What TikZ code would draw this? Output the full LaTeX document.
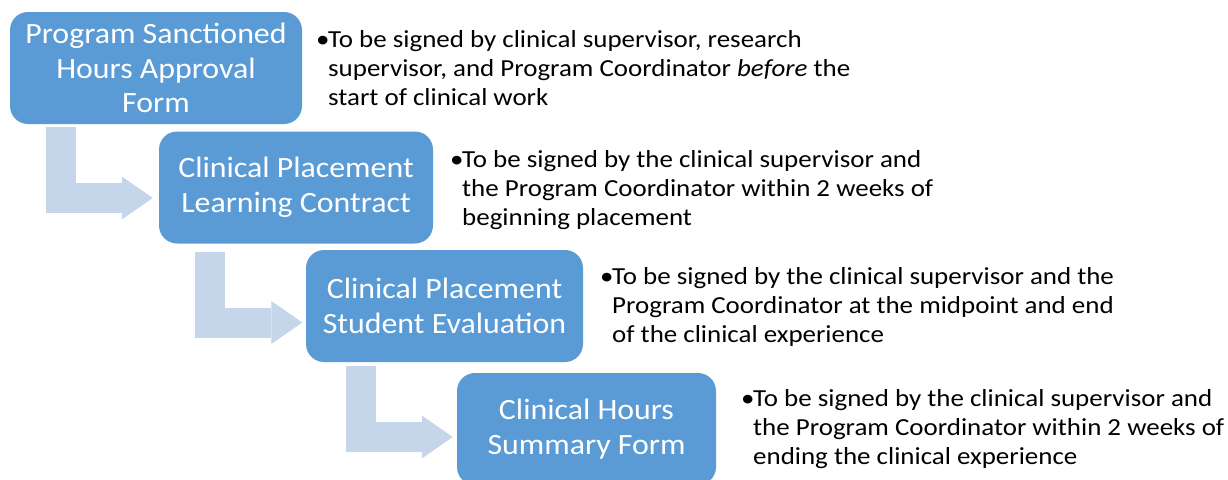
\documentclass[tikz,border=0pt]{standalone}
\usepackage{fontspec}
\setmainfont{Carlito}
\newfontfamily\stagefont[FakeStretch=1.08]{Carlito}
\newfontfamily\notefont[FakeStretch=1.1]{Carlito}
\usepackage{xcolor}
\usepackage{tikz}
\usetikzlibrary{positioning,calc,arrows.meta}

\definecolor{stageblue}{HTML}{5B9BD5}
\definecolor{flowblue}{HTML}{C5D5EA}

\tikzset{
    stage/.style={fill=stageblue, rounded corners=18pt, minimum height=112pt, text=white, align=center, inner sep=0pt, font=\stagefont\fontsize{29.5}{34.5}\selectfont},
    note/.style={anchor=base west, inner sep=0pt, font=\notefont\fontsize{24.5}{29}\selectfont},
    flow/.style={draw=flowblue, line width=30pt, -{Triangle[width=43pt, length=31pt, line width=0pt, fill=flowblue]}}
}

\newcommand{\notelines}[3]{\begin{tabular}[t]{@{}l@{}l@{}}\makebox[12pt][l]{\textbullet}&#1\\&#2\\&#3\end{tabular}}

\begin{document}
\begin{tikzpicture}[x=1pt, y=-1pt]
        \path[use as bounding box, clip] (0,0) rectangle (1228,479);

        \node[stage, minimum width=292pt] (sanctioned) at (156,68) {Program Sanctioned\\Hours Approval\\Form};
        \node[stage, minimum width=274pt] (contract) at (296,187.5) {Clinical Placement\\Learning Contract};
        \node[stage, minimum width=277pt] (evaluation) at (444.5,306) {Clinical Placement\\Student Evaluation};
        \node[stage, minimum width=259pt] (summary) at (586.5,429) {Clinical Hours\\Summary Form};

        \draw[flow] ($(sanctioned.south west)+(51,3)$) |- ($(contract.west)+(-6,10.5)$);
        \draw[flow] ($(contract.south west)+(51.5,8)$) |- ($(evaluation.west)+(-3.5,16.5)$);
        \draw[flow] ($(evaluation.south west)+(55,4)$) |- ($(summary.west)+(-4,8)$);

        \node[note] (sanctionednote) at (316,47) {\notelines{To be signed by clinical supervisor, research}{supervisor, and Program Coordinator \textit{before} the}{start of clinical work}};
        \node[note] (contractnote) at (450,167) {\notelines{To be signed by the clinical supervisor and}{the Program Coordinator within 2 weeks of}{beginning placement}};
        \node[note] (evaluationnote) at (600,284) {\notelines{To be signed by the clinical supervisor and the}{Program Coordinator at the midpoint and end}{of the clinical experience}};
        \node[note] (summarynote) at (741,406) {\notelines{To be signed by the clinical supervisor and}{the Program Coordinator within 2 weeks of}{ending the clinical experience}};
    \end{tikzpicture}
\end{document}
